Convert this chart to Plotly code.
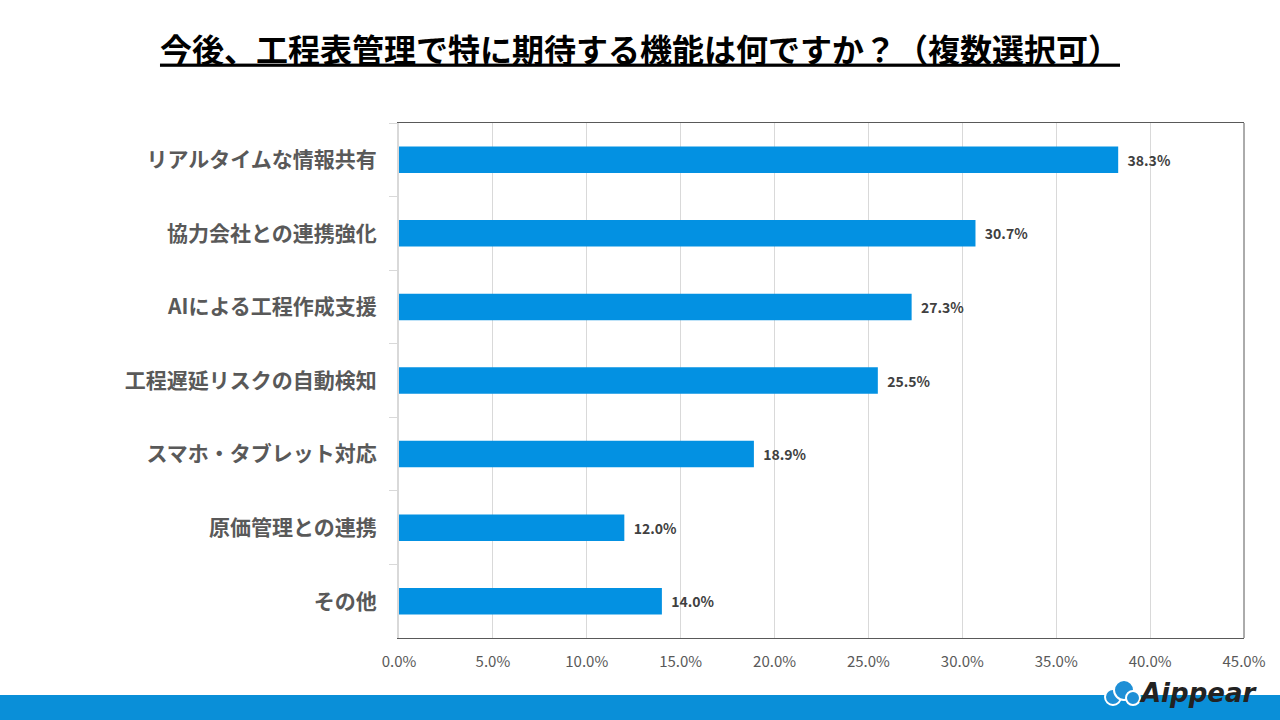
import plotly.graph_objects as go

categories = ["リアルタイムな情報共有", "協力会社との連携強化", "AIによる工程作成支援",
              "工程遅延リスクの自動検知", "スマホ・タブレット対応", "原価管理との連携", "その他"]
values = [38.3, 30.7, 27.3, 25.5, 18.9, 12.0, 14.0]
tick_vals = [0, 5, 10, 15, 20, 25, 30, 35, 40, 45]
tick_text = [f"{v:.1f}%" for v in tick_vals]
title_text = "今後、工程表管理で特に期待する機能は何ですか？（複数選択可）"

FONT = "Noto Sans CJK JP"
PW, PH = 845, 515

fig = go.Figure(go.Bar(
    y=categories, x=values, orientation="h",
    marker=dict(color="#0391E2", line=dict(width=0)),
    width=0.36,
    text=[f"  {v:.1f}%" for v in values], textposition="outside",
    textfont=dict(family=FONT, size=14, color="#404040", weight="bold"),
    cliponaxis=False,
))

shapes = [
    dict(type="line", xref="paper", yref="paper", x0=1, x1=1, y0=0, y1=1,
         line=dict(color="#595959", width=1)),
    dict(type="rect", xref="paper", yref="paper", x0=-399/PW, x1=1+36/PW,
         y0=-82/PH, y1=-57/PH, fillcolor="#0A8FD8", line=dict(width=0),
         layer="above"),
]
# small cloud icon for the logo
for cx, cy, r in [(1113, 697, 8), (1124, 690, 10), (1133, 698, 7)]:
    shapes.append(dict(type="circle", xref="paper", yref="paper",
                       x0=(cx - r - 399)/PW, x1=(cx + r - 399)/PW,
                       y0=(638 - cy - r)/PH, y1=(638 - cy + r)/PH,
                       fillcolor="#1E8FD6", line=dict(color="white", width=2),
                       layer="above"))

fig.update_layout(
    width=1280, height=720,
    margin=dict(l=399, r=36, t=123, b=82),
    paper_bgcolor="white", plot_bgcolor="white",
    showlegend=False,
    font=dict(family=FONT),
    xaxis=dict(range=[0, 45], tickvals=tick_vals, ticktext=tick_text,
               showgrid=True, gridcolor="#d9d9d9", gridwidth=1,
               showline=True, linecolor="#595959", linewidth=1, mirror=True,
               zeroline=False, ticks="", ticklabelstandoff=10,
               tickfont=dict(family=FONT, size=15, color="#595959")),
    yaxis=dict(autorange="reversed", showline=True, linecolor="#d9d9d9", linewidth=2,
               ticks="outside", tickson="boundaries", ticklen=8, tickcolor="#d9d9d9",
               showgrid=False, ticklabelstandoff=16,
               tickfont=dict(family=FONT, size=21, color="#595959", weight="bold")),
    title=dict(text="<u>" + title_text + "</u>", x=0.5, xanchor="center",
               y=0.93, yanchor="middle",
               font=dict(family=FONT, size=32, color="black", weight="bold")),
    shapes=shapes,
    annotations=[
        dict(text="<b>Aippear</b>", xref="paper", yref="paper",
             x=(1198-399)/PW, y=-(693-638)/PH, xanchor="center", yanchor="middle",
             showarrow=False, font=dict(family="DejaVu Sans", size=26, color="#222222",
                                        style="italic", weight="bold")),
    ],
)

fig.write_html("out.html")
